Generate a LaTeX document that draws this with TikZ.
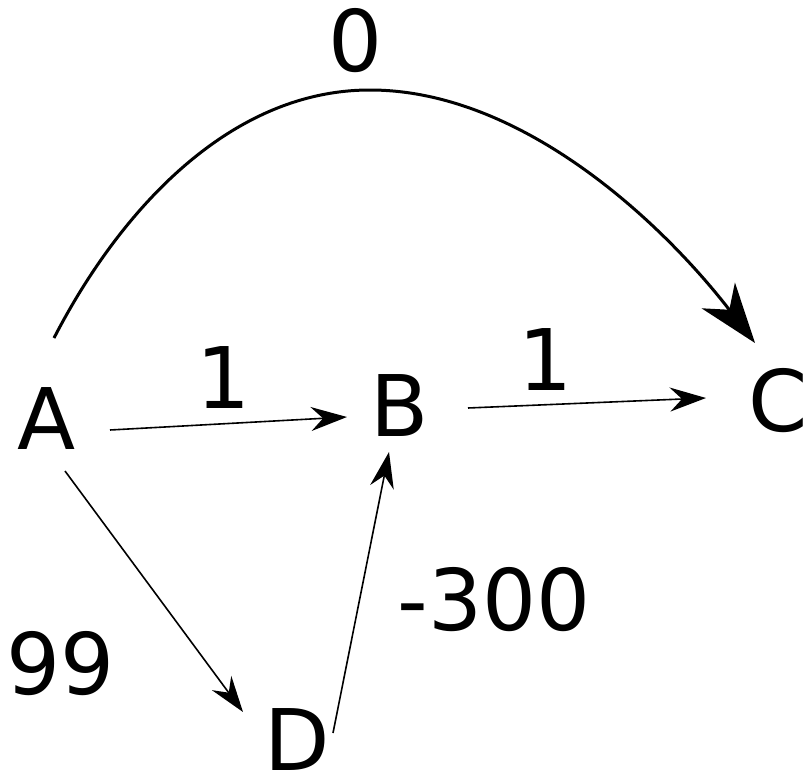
\documentclass[tikz,border=0pt]{standalone}
\usepackage{fontspec}
\setmainfont{DejaVu Sans}
\usetikzlibrary{arrows.meta, calc}

\begin{document}
\begin{tikzpicture}[
    x=0.5pt, y=-0.5pt,
    vertex/.style={inner sep=0pt, font=\fontsize{42.5}{50}\selectfont},
    weight/.style={inner sep=0pt, font=\fontsize{42.5}{50}\selectfont},
    arr/.style={-{Stealth[length=18pt, width=12pt, inset=6pt]}, line width=0.8pt},
    bigarr/.style={-{Stealth[length=30pt, width=21pt, inset=9pt]}, line width=1.5pt}
]
\useasboundingbox (0,0) rectangle (805,776);

% Vertices
\node[vertex] (A) at (47, 419) {A};
\node[vertex] (B) at (400, 406) {B};
\node[vertex] (C) at (778, 401) {C};
\node[vertex] (D) at (297, 740) {D};

% Edges
\draw[arr] ([shift={(63,11)}]A.center) -- ([shift={(-53,11)}]B.center);
\draw[arr] ([shift={(68,2)}]B.center) -- ([shift={(-72,-3)}]C.center);
\draw[arr] ([shift={(18,52)}]A.center) -- ([shift={(-54,-28)}]D.center);
\draw[arr] ([shift={(36,-7)}]D.center) -- ([shift={(-11,46)}]B.center);
\draw[bigarr] ([shift={(7,-81)}]A.center)
    .. controls (120,210) and (230,90) .. (370,90)
    .. controls (520,90) and (660,220) .. ([shift={(-23,-58)}]C.center);

% Weights
\node[weight] (wAC) at (356, 41) {0};
\node[weight] (wAB) at (224, 378) {1};
\node[weight] (wBC) at (546, 360) {1};
\node[weight] (wDB) at (494, 600) {-300};
\node[weight] (wAD) at (61, 664) {99};

\end{tikzpicture}
\end{document}
